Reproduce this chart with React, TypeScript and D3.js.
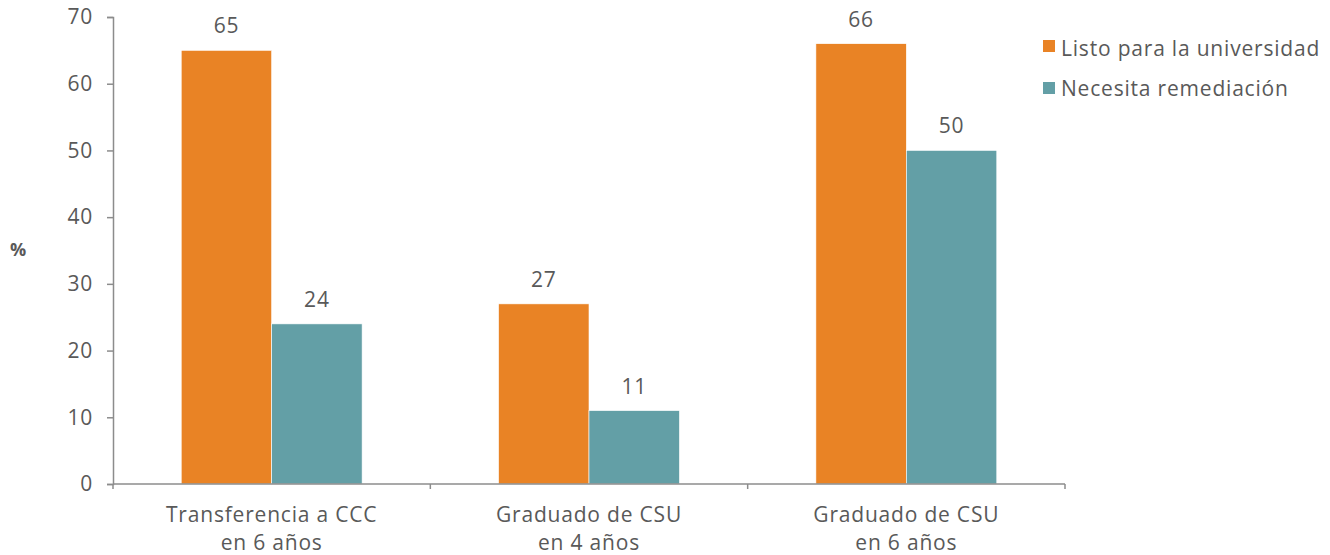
import React, { useEffect, useRef } from 'react';
import * as d3 from 'd3';

const categories = [['Transferencia a CCC', 'en 6 años'], ['Graduado de CSU', 'en 4 años'], ['Graduado de CSU', 'en 6 años']];
const seriesNames = ['Listo para la universidad', 'Necesita remediación'];
const listo = [65, 27, 66];
const remediacion = [24, 11, 50];
const yTicks = [0, 10, 20, 30, 40, 50, 60, 70];
const colors = ['#E98325', '#639FA6'];

const App = () => {
	const ref = useRef<SVGSVGElement>(null);

	useEffect(() => {
		const svg = d3.select(ref.current);
		svg.selectAll('*').remove();
		const font = '"Open Sans", sans-serif';
		const textColor = '#595959';
		const spacing = '0.8px';
		const left = 113, right = 1065, top = 17, bottom = 484;

		const x0 = d3.scaleBand<number>().domain([0, 1, 2]).range([left, right]).paddingInner(0.43).paddingOuter(0.215);
		const x1 = d3.scaleBand<number>().domain([0, 1]).range([0, x0.bandwidth()]);
		const y = d3.scaleLinear().domain([0, 70]).range([bottom, top]);

		const values = [listo, remediacion];

		// bars
		categories.forEach((_, ci) => {
			const g = svg.append('g').attr('transform', `translate(${x0(ci)},0)`);
			values.forEach((vals, si) => {
				g.append('rect')
					.attr('x', x1(si)!)
					.attr('y', y(vals[ci]))
					.attr('width', x1.bandwidth())
					.attr('height', y(0) - y(vals[ci]))
					.attr('fill', colors[si])
					.attr('stroke', '#fff')
					.attr('stroke-width', 0.6);
				g.append('text')
					.attr('x', x1(si)! + x1.bandwidth() / 2)
					.attr('y', y(vals[ci]) - 17)
					.attr('text-anchor', 'middle')
					.style('font-family', font)
					.style('font-size', '21px')
					.style('letter-spacing', spacing)
					.attr('fill', textColor)
					.text(vals[ci]);
			});
		});

		// y axis
		const yAxis = svg.append('g')
			.attr('transform', `translate(${left},0)`)
			.call(d3.axisLeft(y).tickValues(yTicks).tickSize(6).tickPadding(14));
		yAxis.selectAll('line, path').attr('stroke', '#8c8c8c').attr('stroke-width', 1.5);
		yAxis.selectAll('text').style('font-family', font).style('font-size', '21px').style('letter-spacing', spacing).attr('fill', textColor);

		// x axis
		const xAxis = svg.append('g').attr('transform', `translate(0,${bottom})`);
		xAxis.append('line').attr('x1', left).attr('x2', right).attr('stroke', '#8c8c8c').attr('stroke-width', 1.5);
		const bounds = [0, 1, 2].map(i => x0(i)! - (x0.step() - x0.bandwidth()) / 2).concat([right]);
		bounds.forEach(b => {
			xAxis.append('line').attr('x1', b).attr('x2', b).attr('y1', 0).attr('y2', 5).attr('stroke', '#8c8c8c').attr('stroke-width', 1.5);
		});
		categories.forEach((lines, ci) => {
			const t = xAxis.append('text')
				.attr('text-anchor', 'middle')
				.style('font-family', font)
				.style('font-size', '21px')
				.style('letter-spacing', spacing)
				.attr('fill', textColor);
			lines.forEach((l, li) => {
				t.append('tspan')
					.attr('x', x0(ci)! + x0.bandwidth() / 2)
					.attr('y', 38 + li * 28)
					.text(l);
			});
		});

		// y label
		svg.append('text')
			.attr('x', 18)
			.attr('y', 256)
			.attr('text-anchor', 'middle')
			.style('font-family', font)
			.style('font-size', '18px')
			.style('font-weight', 'bold')
			.attr('fill', textColor)
			.text('%');

		// legend
		seriesNames.forEach((name, i) => {
			const ly = 40 + i * 42;
			svg.append('rect').attr('x', 1043).attr('y', ly).attr('width', 12).attr('height', 12).attr('fill', colors[i]);
			svg.append('text')
				.attr('x', 1061)
				.attr('y', ly + 15.5 - i * 2)
				.style('font-family', font)
				.style('font-size', '21px')
				.style('letter-spacing', spacing)
				.attr('fill', textColor)
				.text(name);
		});
	}, []);

	return <svg ref={ref} width={1330} height={555} style={{ position: 'absolute', left: 0, top: 0, background: '#fff' }}></svg>;
};

export default App;
